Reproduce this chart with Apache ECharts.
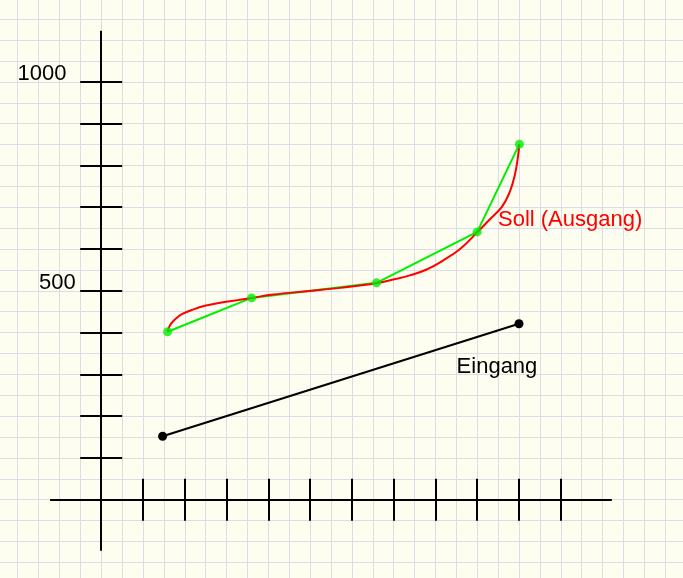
<!DOCTYPE html>
<html><head><meta charset="utf-8">
<script src="https://cdn.jsdelivr.net/npm/echarts@6/dist/echarts.min.js"></script>
<style>html,body{margin:0;padding:0;background:#fdfdf0;overflow:hidden;}#c{width:683px;height:578px;}</style>
</head><body><div id="c"></div>
<script>
// ---- data ----
const xTickValues = [100, 200, 300, 400, 500, 600, 700, 800, 900, 1000, 1100];
const yTickValues = [100, 200, 300, 400, 500, 600, 700, 800, 900, 1000];
const yLabelValues = [500, 1000];
const yLabelTexts = ['500', '1000'];
const eingangX = [147, 1000];
const eingangY = [152, 421];
const sollPointsX = [159, 360, 659, 900, 1001];
const sollPointsY = [402, 483, 519, 641, 851];
const sollCurveX = [159,165,177,193,217,248,288,328,360,412,492,572,659,699,739,779,819,859,900,931,959,978,990,997,1001];
const sollCurveY = [402,418,432,444,454,464,472,478,483,491,499,507,518,527,537,551,573,600,640,672,701,737,777,817,851];
const sollLabel = 'Soll (Ausgang)';
const eingangLabel = 'Eingang';

// ---- style ----
const FONT = '"Liberation Sans", Arial, sans-serif';
const gridColor = '#dcdce4';
const zip = (a, b) => a.map((v, i) => [v, b[i]]);

const chart = echarts.init(document.getElementById('c'), null, {renderer: 'canvas'});
const axisBase = (grid, pos, min, max, ticks) => ({
  type: 'value', gridIndex: grid, position: pos, min: min, max: max,
  axisLine: {show: true, onZero: true, lineStyle: {color: '#000', width: 2}},
  axisTick: {show: true, inside: false, length: 21, customValues: ticks, lineStyle: {color: '#000', width: 2}},
  axisLabel: {show: false}, splitLine: {show: false}
});
const paperAxis = (min, max) => ({
  type: 'value', gridIndex: 0, min: min, max: max, minInterval: 50, maxInterval: 50, splitNumber: 33,
  axisLine: {show: false}, axisTick: {show: false}, axisLabel: {show: false},
  splitLine: {show: true, showMinLine: false, showMaxLine: false, lineStyle: {color: gridColor, width: 1}}
});
chart.setOption({
  animation: false,
  backgroundColor: '#fdfdf0',
  grid: [
    {left: 0, right: 0, top: 0, bottom: 0, containLabel: false},
    {left: 51.06, right: 72.1, top: 31.77, bottom: 28.2, containLabel: false}
  ],
  xAxis: [
    paperAxis(-242.22, 1392.53),
    axisBase(1, 'bottom', -120, 1220, xTickValues),
    axisBase(1, 'top', -120, 1220, xTickValues)
  ],
  yAxis: [
    paperAxis(-187.41, 1196.02),
    axisBase(1, 'left', -120, 1120, yTickValues),
    axisBase(1, 'right', -120, 1120, yTickValues)
  ],
  series: [
    {type: 'line', xAxisIndex: 0, yAxisIndex: 0, data: zip(sollPointsX, sollPointsY),
     showSymbol: false, lineStyle: {color: '#00ee00', width: 2}, z: 2},
    {type: 'line', xAxisIndex: 0, yAxisIndex: 0, data: zip(sollCurveX, sollCurveY),
     smooth: 0.4, showSymbol: false, lineStyle: {color: '#ff0000', width: 2}, z: 3},
    {type: 'scatter', xAxisIndex: 0, yAxisIndex: 0, data: zip(sollPointsX, sollPointsY),
     symbol: 'circle', symbolSize: 9, itemStyle: {color: '#00ee00'}, z: 4},
    {type: 'line', xAxisIndex: 0, yAxisIndex: 0, data: zip(eingangX, eingangY),
     symbol: 'circle', symbolSize: 9, showSymbol: true, itemStyle: {color: '#000'},
     lineStyle: {color: '#000', width: 2}, z: 4}
  ]
});

// labels (baseline offset for middle alignment)
const BL = 7.6;
const yLabelLeft = [39, 17.6];
const gtexts = yLabelValues.map((v, i) => ({
  type: 'text', x: yLabelLeft[i], y: chart.convertToPixel({yAxisIndex: 1}, v) - 0.3 - BL,
  style: {text: yLabelTexts[i], font: '22px ' + FONT, fill: '#000', align: 'left', verticalAlign: 'middle'}, z: 10
})).concat([
  {type: 'text', x: 498, y: 227.3 - BL,
   style: {text: sollLabel, font: '22px ' + FONT, fill: '#ff0000', align: 'left', verticalAlign: 'middle'}, z: 10},
  {type: 'text', x: 456.6, y: 374.5 - BL,
   style: {text: eingangLabel, font: '22px ' + FONT, fill: '#000', align: 'left', verticalAlign: 'middle'}, z: 10}
]);
chart.setOption({graphic: {elements: gtexts}});
</script></body></html>
